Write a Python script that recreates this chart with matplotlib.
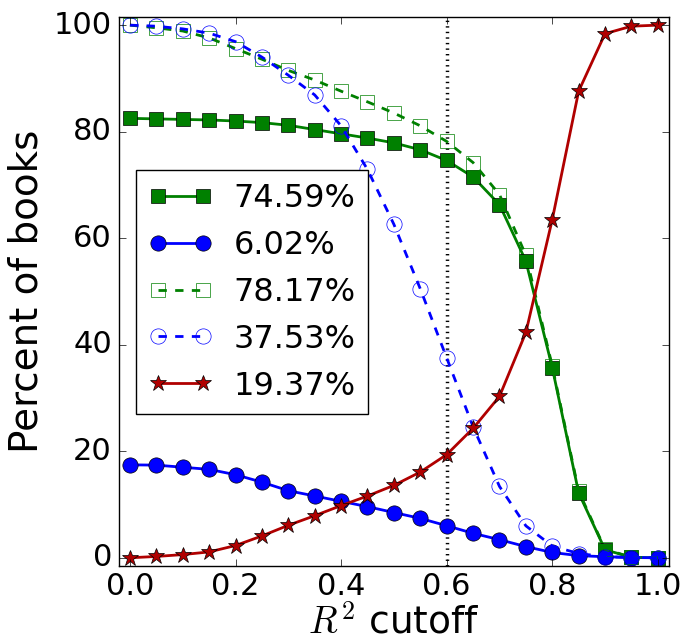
import numpy as np
import matplotlib
matplotlib.use("Agg")
import matplotlib.pyplot as plt

plt.style.use("classic")
plt.rcParams["figure.facecolor"] = "white"
plt.rcParams["savefig.facecolor"] = "white"
plt.rcParams["font.family"] = ["DejaVu Sans"]
plt.rcParams["mathtext.fontset"] = "cm"

cutoffs = [0.0, 0.05, 0.1, 0.15, 0.2, 0.25, 0.3, 0.35, 0.4, 0.45, 0.5,
           0.55, 0.6, 0.65, 0.7, 0.75, 0.8, 0.85, 0.9, 0.95, 1.0]

green_solid = [82.5, 82.4, 82.3, 82.2, 82.0, 81.7, 81.2, 80.4, 79.6, 78.8, 77.9,
               76.6, 74.59, 71.5, 66.3, 55.7, 35.7, 12.2, 1.5, 0.1, 0.0]
blue_solid = [17.45, 17.4, 17.0, 16.6, 15.6, 14.2, 12.6, 11.6, 10.6, 9.6, 8.5,
              7.4, 6.02, 4.6, 3.4, 2.1, 1.0, 0.4, 0.2, 0.05, 0.0]
green_dashed = [100.0, 99.5, 98.9, 97.6, 95.6, 93.6, 91.5, 89.7, 87.6, 85.6, 83.5,
                81.1, 78.17, 74.2, 68.2, 56.8, 36.0, 12.5, 1.6, 0.1, 0.0]
blue_dashed = [100.0, 99.8, 99.3, 98.5, 96.9, 94.0, 90.6, 86.9, 81.1, 72.9, 62.6,
               50.5, 37.53, 24.6, 13.4, 6.0, 2.2, 0.8, 0.2, 0.05, 0.0]
red_stars = [0.0, 0.25, 0.6, 1.1, 2.3, 4.1, 6.1, 7.9, 9.8, 11.6, 13.6,
             16.1, 19.37, 24.3, 30.3, 42.3, 63.5, 87.6, 98.4, 99.8, 100.0]

labels = ["74.59%", "6.02%", "78.17%", "37.53%", "19.37%"]
cutoff_line = 0.6
xticks = [0.0, 0.2, 0.4, 0.6, 0.8, 1.0]
yticks = [0, 20, 40, 60, 80, 100]

fig = plt.figure(figsize=(6.99, 6.39), dpi=100)
ax = fig.add_axes([0.170, 0.115, 0.787, 0.859])

ax.axvline(cutoff_line, color="black", ls=":", lw=2.5)

ax.plot(cutoffs, green_solid, "-s", color="green", lw=2, ms=10, mfc="green",
        mec="black", label=labels[0])
ax.plot(cutoffs, blue_solid, "-o", color="blue", lw=2, ms=11, mfc="blue",
        mec="black", label=labels[1])
ax.plot(cutoffs, green_dashed, "--s", color="green", lw=2, ms=10, mfc="none",
        mec="green", label=labels[2])
ax.plot(cutoffs, blue_dashed, "--o", color="blue", lw=2, ms=11, mfc="none",
        mec="blue", label=labels[3])
ax.plot(cutoffs, red_stars, "-*", color="#b00000", lw=2, ms=12, mfc="#b00000",
        mec="black", label=labels[4])

ax.set_xlim(-0.021, 1.021)
ax.set_ylim(-1.45, 101.6)
ax.set_xticks(xticks)
ax.set_yticks(yticks)
ax.tick_params(labelsize=22, direction="in", length=5, pad=5)
ax.set_xlabel(r"$R^2$ cutoff", fontsize=27, labelpad=2)
ax.set_ylabel("Percent of books", fontsize=28, labelpad=6)

leg = ax.legend(loc="upper left", bbox_to_anchor=(0.1946, 0.734),
                bbox_transform=fig.transFigure, borderaxespad=0,
                fontsize=23, numpoints=2, handlelength=2.0,
                handletextpad=0.65, labelspacing=0.5, borderpad=0.4,
                fancybox=False)
leg.get_frame().set_linewidth(1.0)

fig.savefig("out.png", dpi=100)
